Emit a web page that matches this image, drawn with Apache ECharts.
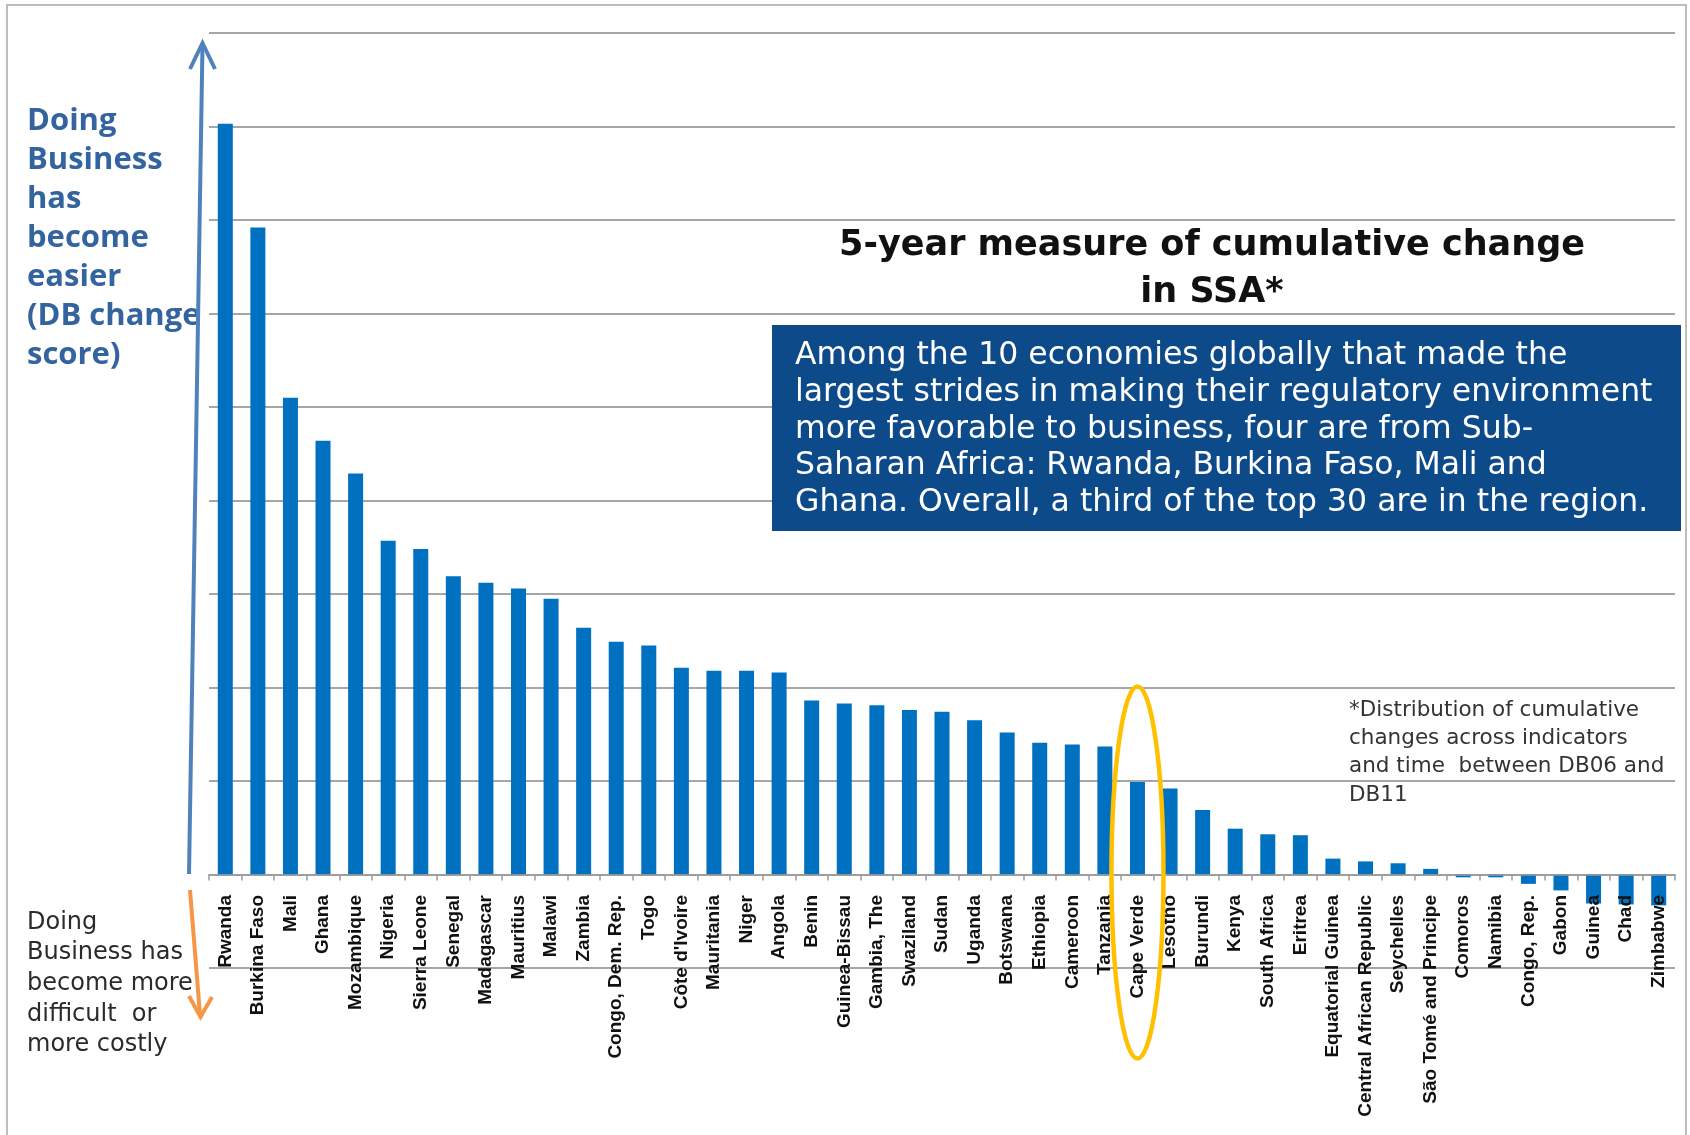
<!DOCTYPE html>
<html>
<head>
<meta charset="utf-8">
<script src="https://cdn.jsdelivr.net/npm/echarts@6/dist/echarts.min.js"></script>
<style>
  html, body { margin: 0; padding: 0; background: #ffffff; }
  #chart { width: 1690px; height: 1135px; }
</style>
</head>
<body>
<div id="chart"></div>
<script>
// ---- Data ----
const categories = [
  "Rwanda", "Burkina Faso", "Mali", "Ghana", "Mozambique", "Nigeria", "Sierra Leone",
  "Senegal", "Madagascar", "Mauritius", "Malawi", "Zambia", "Congo, Dem. Rep.", "Togo",
  "Côte d'Ivoire", "Mauritania", "Niger", "Angola", "Benin", "Guinea-Bissau", "Gambia, The",
  "Swaziland", "Sudan", "Uganda", "Botswana", "Ethiopia", "Cameroon", "Tanzania",
  "Cape Verde", "Lesotho", "Burundi", "Kenya", "South Africa", "Eritrea",
  "Equatorial Guinea", "Central African Republic", "Seychelles", "São Tomé and Principe",
  "Comoros", "Namibia", "Congo, Rep.", "Gabon", "Guinea", "Chad", "Zimbabwe"
];
const changeScores = [
  8.03, 6.92, 5.10, 4.64, 4.29, 3.57, 3.48,
  3.19, 3.12, 3.06, 2.95, 2.64, 2.49, 2.45,
  2.21, 2.18, 2.18, 2.16, 1.86, 1.83, 1.81,
  1.76, 1.74, 1.65, 1.52, 1.41, 1.39, 1.37,
  0.99, 0.92, 0.69, 0.49, 0.43, 0.42,
  0.17, 0.14, 0.12, 0.06,
  -0.03, -0.03, -0.10, -0.17, -0.31, -0.32, -0.33
];
const highlighted = "Cape Verde";

const titleText = "5-year measure of cumulative change\nin SSA*";
const boxText = "Among the 10 economies globally that made the\nlargest strides in making their regulatory environment\nmore favorable to business, four are from Sub-\nSaharan Africa: Rwanda, Burkina Faso, Mali and\nGhana. Overall, a third of the top 30 are in the region.";
const upText = "Doing\nBusiness\nhas\nbecome\neasier\n(DB change\nscore)";
const downText = "Doing\nBusiness has\nbecome more\ndifficult  or\nmore costly";
const noteText = "*Distribution of cumulative\nchanges across indicators\nand time  between DB06 and\nDB11";

// ---- Chart ----
const chart = echarts.init(document.getElementById('chart'));
chart.setOption({
  backgroundColor: '#ffffff',
  animation: false,
  grid: { left: 209, right: 15, top: 33, bottom: 167, containLabel: false, outerBoundsMode: 'none' },
  xAxis: {
    type: 'category',
    data: categories,
    z: 5,
    axisLine: { onZero: true, lineStyle: { color: '#9a9a9a', width: 1.5 } },
    axisTick: { show: true, length: 6, lineStyle: { color: '#9a9a9a', width: 1.5 } },
    axisLabel: {
      rotate: 90,
      interval: 0,
      margin: -73,
      color: '#111111',
      fontFamily: "'Liberation Sans', Arial, sans-serif",
      fontWeight: 'bold',
      fontSize: 19
    }
  },
  yAxis: {
    type: 'value',
    min: -1,
    max: 9,
    interval: 1,
    axisLine: { show: false },
    axisTick: { show: false },
    axisLabel: { show: false },
    splitLine: { show: true, lineStyle: { color: '#a6a6a6', width: 2 } }
  },
  series: [{
    type: 'bar',
    data: changeScores,
    barWidth: 15,
    z: 2,
    itemStyle: { color: '#0070c0' }
  }]
});

// ---- Annotations ----
const hx = chart.convertToPixel({ xAxisIndex: 0 }, highlighted);
const hy = chart.convertToPixel({ yAxisIndex: 0 }, 0);

chart.setOption({
  graphic: [
    { type: 'rect', shape: { x: 7, y: 5, width: 1679, height: 1140 },
      style: { fill: 'none', stroke: '#bdbdbd', lineWidth: 2 }, z: 1 },
    { type: 'text', x: 1212, y: 222,
      style: { text: titleText, fill: '#111111', fontFamily: "'DejaVu Sans', sans-serif",
               fontWeight: 'bold', fontSize: 35, lineHeight: 47, textAlign: 'center' }, z: 10 },
    { type: 'rect', shape: { x: 772, y: 325, width: 909, height: 206 },
      style: { fill: '#0c4a8a' }, z: 10 },
    { type: 'text', x: 795, y: 338,
      style: { text: boxText, fill: '#ffffff', fontFamily: "'DejaVu Sans', sans-serif",
               fontSize: 31.5, lineHeight: 36.6 }, z: 11 },
    { type: 'text', x: 27, y: 102,
      style: { text: upText, fill: '#33649f', fontFamily: "'Open Sans', sans-serif",
               fontWeight: 'bold', fontSize: 31, lineHeight: 39 }, z: 10 },
    { type: 'text', x: 27, y: 907,
      style: { text: downText, fill: '#2b2b2b', fontFamily: "'DejaVu Sans', sans-serif",
               fontSize: 24, lineHeight: 30.7 }, z: 10 },
    { type: 'text', x: 1349, y: 696,
      style: { text: noteText, fill: '#333333', fontFamily: "'DejaVu Sans', sans-serif",
               fontSize: 21.5, lineHeight: 28.3 }, z: 10 },
    { type: 'polyline', shape: { points: [[189, 874], [202.5, 44]] },
      style: { stroke: '#4f81bd', lineWidth: 4, fill: 'none' }, z: 12 },
    { type: 'polyline', shape: { points: [[190, 69], [202.5, 43], [215, 69]] },
      style: { stroke: '#4f81bd', lineWidth: 4, fill: 'none', lineJoin: 'miter' }, z: 12 },
    { type: 'polyline', shape: { points: [[190, 890], [200, 1015]] },
      style: { stroke: '#f79646', lineWidth: 4, fill: 'none' }, z: 12 },
    { type: 'polyline', shape: { points: [[189, 996], [200.5, 1017], [212, 997]] },
      style: { stroke: '#f79646', lineWidth: 4, fill: 'none', lineJoin: 'miter' }, z: 12 },
    { type: 'ellipse', shape: { cx: hx, cy: hy - 2, rx: 26, ry: 186 },
      style: { fill: 'none', stroke: '#ffc000', lineWidth: 4.5 }, z: 12 }
  ]
});
</script>
</body>
</html>
